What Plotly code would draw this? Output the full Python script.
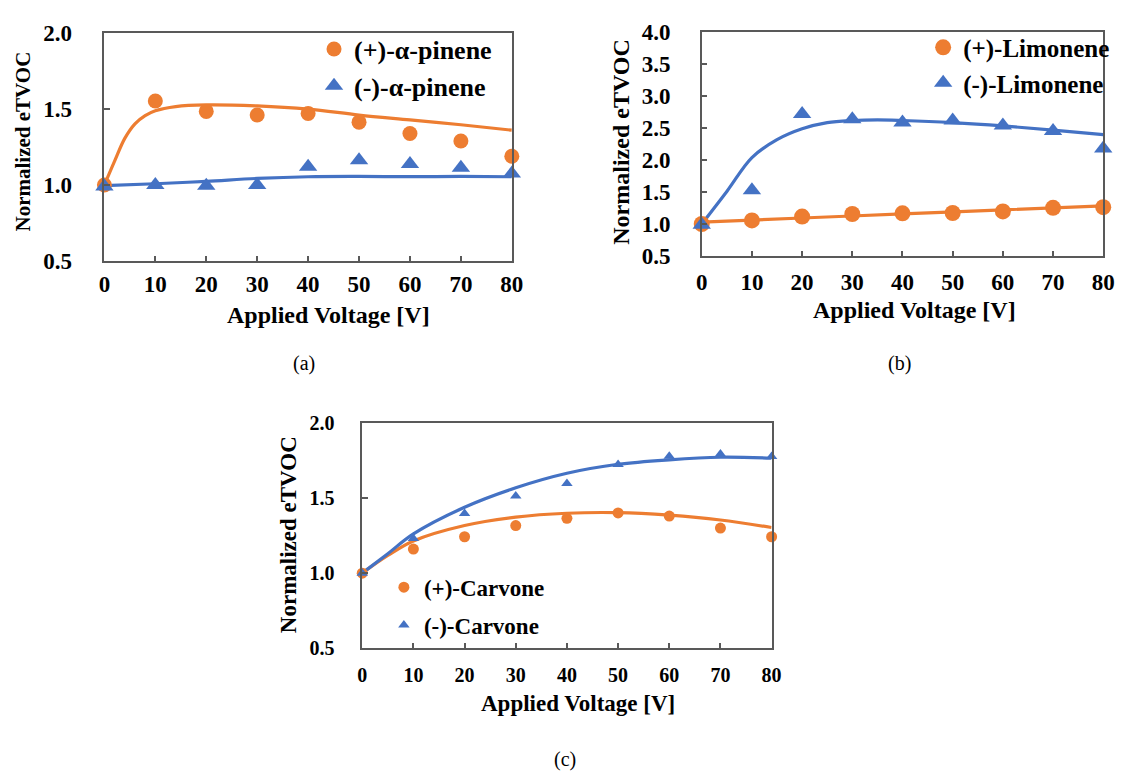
import plotly.graph_objects as go

W, H = 1130, 782
ORANGE = "#ED7D31"
BLUE = "#4472C4"
AXC = "#595959"
FONT = "Liberation Serif"

# ---------------- data ----------------
volts = [0, 10, 20, 30, 40, 50, 60, 70, 80]

# (a) alpha-pinene
a_plus = [1.0, 1.554, 1.485, 1.461, 1.472, 1.414, 1.339, 1.29, 1.189]
a_minus = [0.99, 1.0, 0.995, 1.0, 1.12, 1.163, 1.139, 1.114, 1.075]
a_fit_plus_x = [0, 2, 4, 6, 8, 10, 14, 20, 30, 40, 50, 60, 70, 80]
a_fit_plus_y = [1.0, 1.157, 1.307, 1.403, 1.457, 1.489, 1.517, 1.528, 1.521, 1.50, 1.461, 1.429, 1.397, 1.361]
a_fit_minus_x = [0, 10, 20, 30, 40, 50, 60, 70, 80]
a_fit_minus_y = [0.995, 1.008, 1.024, 1.043, 1.054, 1.056, 1.055, 1.056, 1.054]

# (b) limonene
b_plus = [1.0, 1.056, 1.116, 1.157, 1.167, 1.172, 1.197, 1.253, 1.263]
b_minus = [0.99, 1.53, 2.72, 2.64, 2.59, 2.62, 2.54, 2.455, 2.18]
b_fit_plus_x = [0, 20, 40, 60, 80]
b_fit_plus_y = [1.03, 1.094, 1.157, 1.222, 1.283]
b_fit_minus_x = [0, 5, 10, 15, 20, 25, 30, 35, 40, 50, 60, 70, 80]
b_fit_minus_y = [1.0, 1.51, 2.04, 2.32, 2.49, 2.586, 2.62, 2.63, 2.62, 2.586, 2.535, 2.47, 2.40]

# (c) carvone
c_plus = [1.0, 1.161, 1.243, 1.318, 1.366, 1.402, 1.381, 1.301, 1.243]
c_minus = [1.0, 1.232, 1.398, 1.516, 1.598, 1.725, 1.781, 1.796, 1.779]
c_fit_plus_x = [0, 5, 10, 20, 30, 40, 50, 60, 70, 80]
c_fit_plus_y = [1.0, 1.118, 1.215, 1.318, 1.374, 1.40, 1.404, 1.387, 1.355, 1.305]
c_fit_minus_x = [0, 5, 10, 20, 30, 40, 50, 60, 70, 80]
c_fit_minus_y = [1.0, 1.13, 1.262, 1.44, 1.57, 1.667, 1.727, 1.757, 1.774, 1.768]

x_ticks = [0, 10, 20, 30, 40, 50, 60, 70, 80]
y_ticks_a = [0.5, 1.0, 1.5, 2.0]
y_ticks_b = [0.5, 1.0, 1.5, 2.0, 2.5, 3.0, 3.5, 4.0]
y_ticks_c = [0.5, 1.0, 1.5, 2.0]

names = {
    "a": ["(+)-α-pinene", "(-)-α-pinene"],
    "b": ["(+)-Limonene", "(-)-Limonene"],
    "c": ["(+)-Carvone", "(-)-Carvone"],
}

# ---------------- layout geometry (pixels) ----------------
panels = {
    # left, right, top, bottom
    "a": (100, 514, 22, 257),
    "b": (707, 1115, 21, 252),
    "c": (362, 778, 425, 657),
}


def px_x(v):
    return v / W


def px_y(v):
    return 1 - v / H


fig = go.Figure()

specs = [
    ("a", "x", "y", a_plus, a_minus, (a_fit_plus_x, a_fit_plus_y), (a_fit_minus_x, a_fit_minus_y), 15, 16, "legend"),
    ("b", "x2", "y2", b_plus, b_minus, (b_fit_plus_x, b_fit_plus_y), (b_fit_minus_x, b_fit_minus_y), 16, 16, "legend2"),
    ("c", "x3", "y3", c_plus, c_minus, (c_fit_plus_x, c_fit_plus_y), (c_fit_minus_x, c_fit_minus_y), 11, 10, "legend3"),
]

for key, xa, ya, yp, ym, fp, fm, cs, ts, lg in specs:
    fig.add_trace(go.Scatter(x=fp[0], y=fp[1], mode="lines", line=dict(color=ORANGE, width=3.2, shape="spline"),
                             xaxis=xa, yaxis=ya, showlegend=False, hoverinfo="skip", cliponaxis=False))
    fig.add_trace(go.Scatter(x=fm[0], y=fm[1], mode="lines", line=dict(color=BLUE, width=3.2, shape="spline"),
                             xaxis=xa, yaxis=ya, showlegend=False, hoverinfo="skip", cliponaxis=False))
    fig.add_trace(go.Scatter(x=volts, y=yp, mode="markers", name=names[key][0],
                             marker=dict(color=ORANGE, size=cs, symbol="circle"),
                             xaxis=xa, yaxis=ya, legend=lg, legendgroup=key + "p", cliponaxis=False))
    fig.add_trace(go.Scatter(x=volts, y=ym, mode="markers", name=names[key][1],
                             marker=dict(color=BLUE, size=ts, symbol="triangle-up"),
                             xaxis=xa, yaxis=ya, legend=lg, legendgroup=key + "m", cliponaxis=False))

axis_common = dict(showline=True, linecolor=AXC, linewidth=1.5, mirror=True, showgrid=False, zeroline=False,
                   ticks="inside", tickcolor=AXC, tickwidth=1.5)

layout = dict(width=W, height=H, margin=dict(l=0, r=0, t=0, b=0), plot_bgcolor="white", paper_bgcolor="white",
              font=dict(family=FONT, color="black"))

tick_sizes = {"a": 23, "b": 23, "c": 20}
ystand = {"a": 26, "b": 25, "c": 22}
xstand = {"a": 2, "b": 5, "c": 8}
yticks = {"a": y_ticks_a, "b": y_ticks_b, "c": y_ticks_c}
yranges = {"a": [0.5, 2.0], "b": [0.5, 4.0], "c": [0.5, 2.0]}
axnames = {"a": ("xaxis", "yaxis", "x", "y"), "b": ("xaxis2", "yaxis2", "x2", "y2"), "c": ("xaxis3", "yaxis3", "x3", "y3")}

for key, (l, r, t, b) in panels.items():
    xn, yn, xid, yid = axnames[key]
    layout[xn] = dict(axis_common, domain=[px_x(l), px_x(r)], range=[0, 80], tickvals=x_ticks,
                      ticklen=5, anchor=yid, ticklabelstandoff=xstand[key],
                      tickfont=dict(family=FONT, size=tick_sizes[key], weight="bold"))
    layout[yn] = dict(axis_common, domain=[px_y(b), px_y(t)], range=yranges[key], tickvals=yticks[key],
                      tickformat=".1f", ticklen=6, anchor=xid, ticklabelstandoff=ystand[key],
                      tickfont=dict(family=FONT, size=tick_sizes[key], weight="bold"))

leg_font = {"a": 26, "b": 25, "c": 23}
leg_pos = {"a": (313, 14), "b": (932, 13), "c": (384, 572)}
leg_gap = {"a": 0, "b": 0, "c": 5}
for key, lgname in [("a", "legend"), ("b", "legend2"), ("c", "legend3")]:
    lx, ly = leg_pos[key]
    layout[lgname] = dict(x=px_x(lx), y=px_y(ly), xanchor="left", yanchor="top", bgcolor="rgba(0,0,0,0)",
                          font=dict(family=FONT, size=leg_font[key], weight="bold", color="black"),
                          tracegroupgap=leg_gap[key], itemsizing="trace")

annotations = []
# axis titles
ytitles = {"a": (17, 134, 21), "b": (625, 135, 24), "c": (287, 540, 23)}
xtitles = {"a": (328, 313, 24), "b": (923, 308, 24), "c": (581, 714, 23)}
for key in panels:
    x0, y0, fs = ytitles[key]
    annotations.append(dict(text="<b>Normalized eTVOC</b>", x=px_x(x0), y=px_y(y0), xref="paper", yref="paper",
                            showarrow=False, textangle=-90, xanchor="center", yanchor="middle",
                            font=dict(family=FONT, size=fs, color="black")))
    x0, y0, fs = xtitles[key]
    annotations.append(dict(text="<b>Applied Voltage [V]</b>", x=px_x(x0), y=px_y(y0), xref="paper", yref="paper",
                            showarrow=False, xanchor="center", yanchor="middle",
                            font=dict(family=FONT, size=fs, color="black")))
# captions
for txt, cx, cy in [("(a)", 303, 363), ("(b)", 908, 363), ("(c)", 568, 772)]:
    annotations.append(dict(text=txt, x=px_x(cx), y=px_y(cy), xref="paper", yref="paper", showarrow=False,
                            xanchor="center", yanchor="middle", font=dict(family=FONT, size=20, color="black")))

layout["annotations"] = annotations
fig.update_layout(**layout)
fig.write_html("out.html")
